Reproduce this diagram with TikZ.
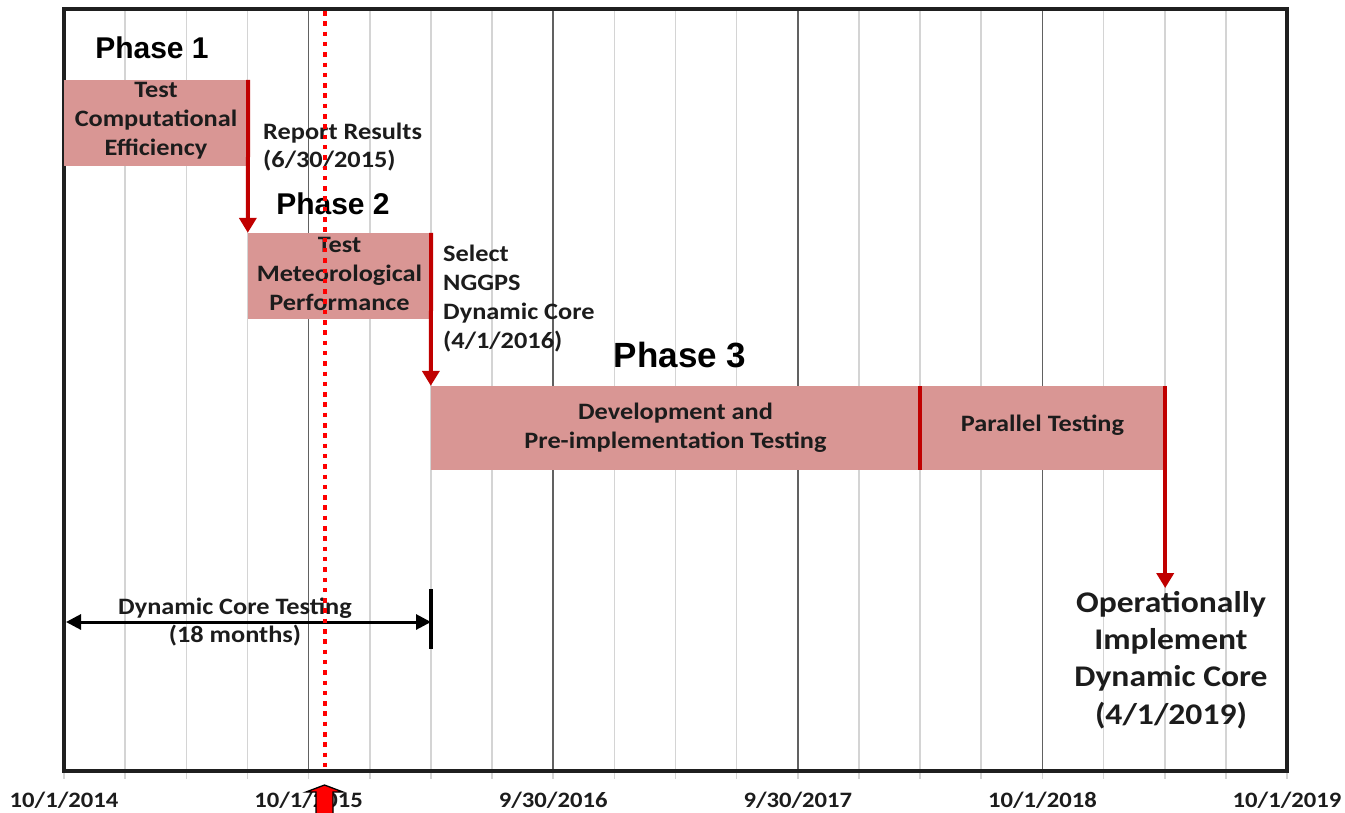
\documentclass[tikz,border=0pt]{standalone}
\usepackage{fontspec}
\setmainfont{Carlito}[FakeStretch=1.12]
\newfontfamily\phasefont{Liberation Sans}
\usetikzlibrary{positioning}
\usetikzlibrary{arrows.meta}
\usetikzlibrary{fit}
\definecolor{boxpink}{RGB}{217,150,148}
\definecolor{mred}{RGB}{192,0,0}
\definecolor{ink}{RGB}{28,28,28}
\tikzstyle{quarterline}=[draw=black!17, line width=1.6]
\tikzstyle{yearline}=[draw=black!62, line width=1.6]
\tikzstyle{frame}=[draw=black!88, line width=3.2]
\tikzstyle{taskbox}=[fill=boxpink, inner sep=0pt]
\tikzstyle{tasktext}=[text=ink, inner sep=0pt, align=center, font=\bfseries\fontsize{23.5}{29}\selectfont]
\tikzstyle{milestone}=[draw=mred, line width=4, -{Triangle[width=17pt,length=15pt]}]
\tikzstyle{note}=[text=ink, inner sep=0pt, align=left, font=\bfseries\fontsize{23.5}{28}\selectfont]
\tikzstyle{phase}=[inner sep=0pt, font=\phasefont\bfseries\fontsize{30}{36}\selectfont]
\tikzstyle{datelabel}=[text=ink, inner sep=0pt, font=\bfseries\fontsize{22}{26}\selectfont]

\begin{document}
\begin{tikzpicture}[x=1pt, y=-1pt]
    \useasboundingbox (0,0) rectangle (1345,812);

    % Grid: quarters, ticks and years
    \foreach \q in {1,...,19}
            \draw[quarterline] ({64+\q*61.15},9) -- ++(0,762);
    \foreach \q in {0,...,20}
            \draw[quarterline] ({64+\q*61.15},771) -- ++(0,8);
    \foreach \y in {1,...,4}
            \draw[yearline] ({64+\y*244.6},9) -- ++(0,762);
    \draw[frame] (64,9) rectangle (1287,771);

    % Dates under the axis
    \foreach \y/\date in {0/{10/1/2014}, 1/{10/1/2015}, 2/{9/30/2016}, 3/{9/30/2017}, 4/{10/1/2018}, 5/{10/1/2019}}
            \node[datelabel] (date\y) at ({64+\y*244.6},800) {\date};

    % Phase titles
    \node[phase] (ph1) at (152,48) {Phase 1};
    \node[phase] (ph2) at (333,204) {Phase 2};
    \node[phase, font=\phasefont\bfseries\fontsize{35}{40}\selectfont] (ph3) at (680,355) {Phase 3};

    % Task bars
    \node[taskbox, fit={(64,80) (248,166)}] (p1box) {};
    \node[taskbox, fit={(248,233) (431,319)}] (p2box) {};
    \node[taskbox, fit={(431,386) (920,470)}] (devbox) {};
    \node[taskbox, fit={(920,386) (1165,470)}] (parbox) {};
    \node[tasktext, yshift=2pt] (p1text) at (p1box) {Test\\Computational\\Efficiency};
    \node[tasktext, yshift=2pt] (p2text) at (p2box) {Test\\Meteorological\\Performance};
    \node[tasktext] (devtext) at (devbox) {Development and\\Pre-implementation Testing};
    \node[tasktext, yshift=3pt] (partext) at (parbox) {Parallel Testing};

    % Milestone notes
    \node[note, anchor=west] (report) at (263,147) {Report Results\\(6/30/2015)};
    \node[note, anchor=west, font=\bfseries\fontsize{23.5}{29}\selectfont] (select) at (443,299) {Select\\NGGPS\\Dynamic Core\\(4/1/2016)};
    \node[note, align=center, inner sep=3pt, font=\bfseries\fontsize{30}{37.3}\selectfont] (oper) at (1171,660) {Operationally\\Implement\\Dynamic Core\\(4/1/2019)};

    % Milestone arrows
    \draw[milestone] (p1box.north east) -- (p2box.north west);
    \draw[milestone] (p2box.north east) -- (devbox.north west);
    \draw[milestone] (parbox.north east) -- (parbox.north east |- oper.north);
    \draw[mred, line width=4] (devbox.north east) -- (devbox.south east);

    % Span of the core testing
    \coordinate (dimL) at (66,622);
    \coordinate (dimR) at (431,622);
    \draw[line width=3, {Triangle[width=15pt,length=15pt]}-{Triangle[width=15pt,length=15pt]}] (dimL) -- (dimR);
    \draw[line width=4] (dimR) ++(0,-33) -- ++(0,60);
    \node[note, align=center] (span) at (235,622) {Dynamic Core Testing\\(18 months)};

    % Current date marker
    \coordinate (nowtop) at (325,11);
    \coordinate (nowbot) at (325,770);
    \draw[red, line width=4.5, dash pattern=on 4.5 off 5.8] (nowtop) -- (nowbot);
    \draw[fill=red, line width=1.3] (316,815) -- (316,792) -- (306,792) -- (324.5,785) -- (343,792) -- (333,792) -- (333,815);

\end{tikzpicture}
\end{document}
